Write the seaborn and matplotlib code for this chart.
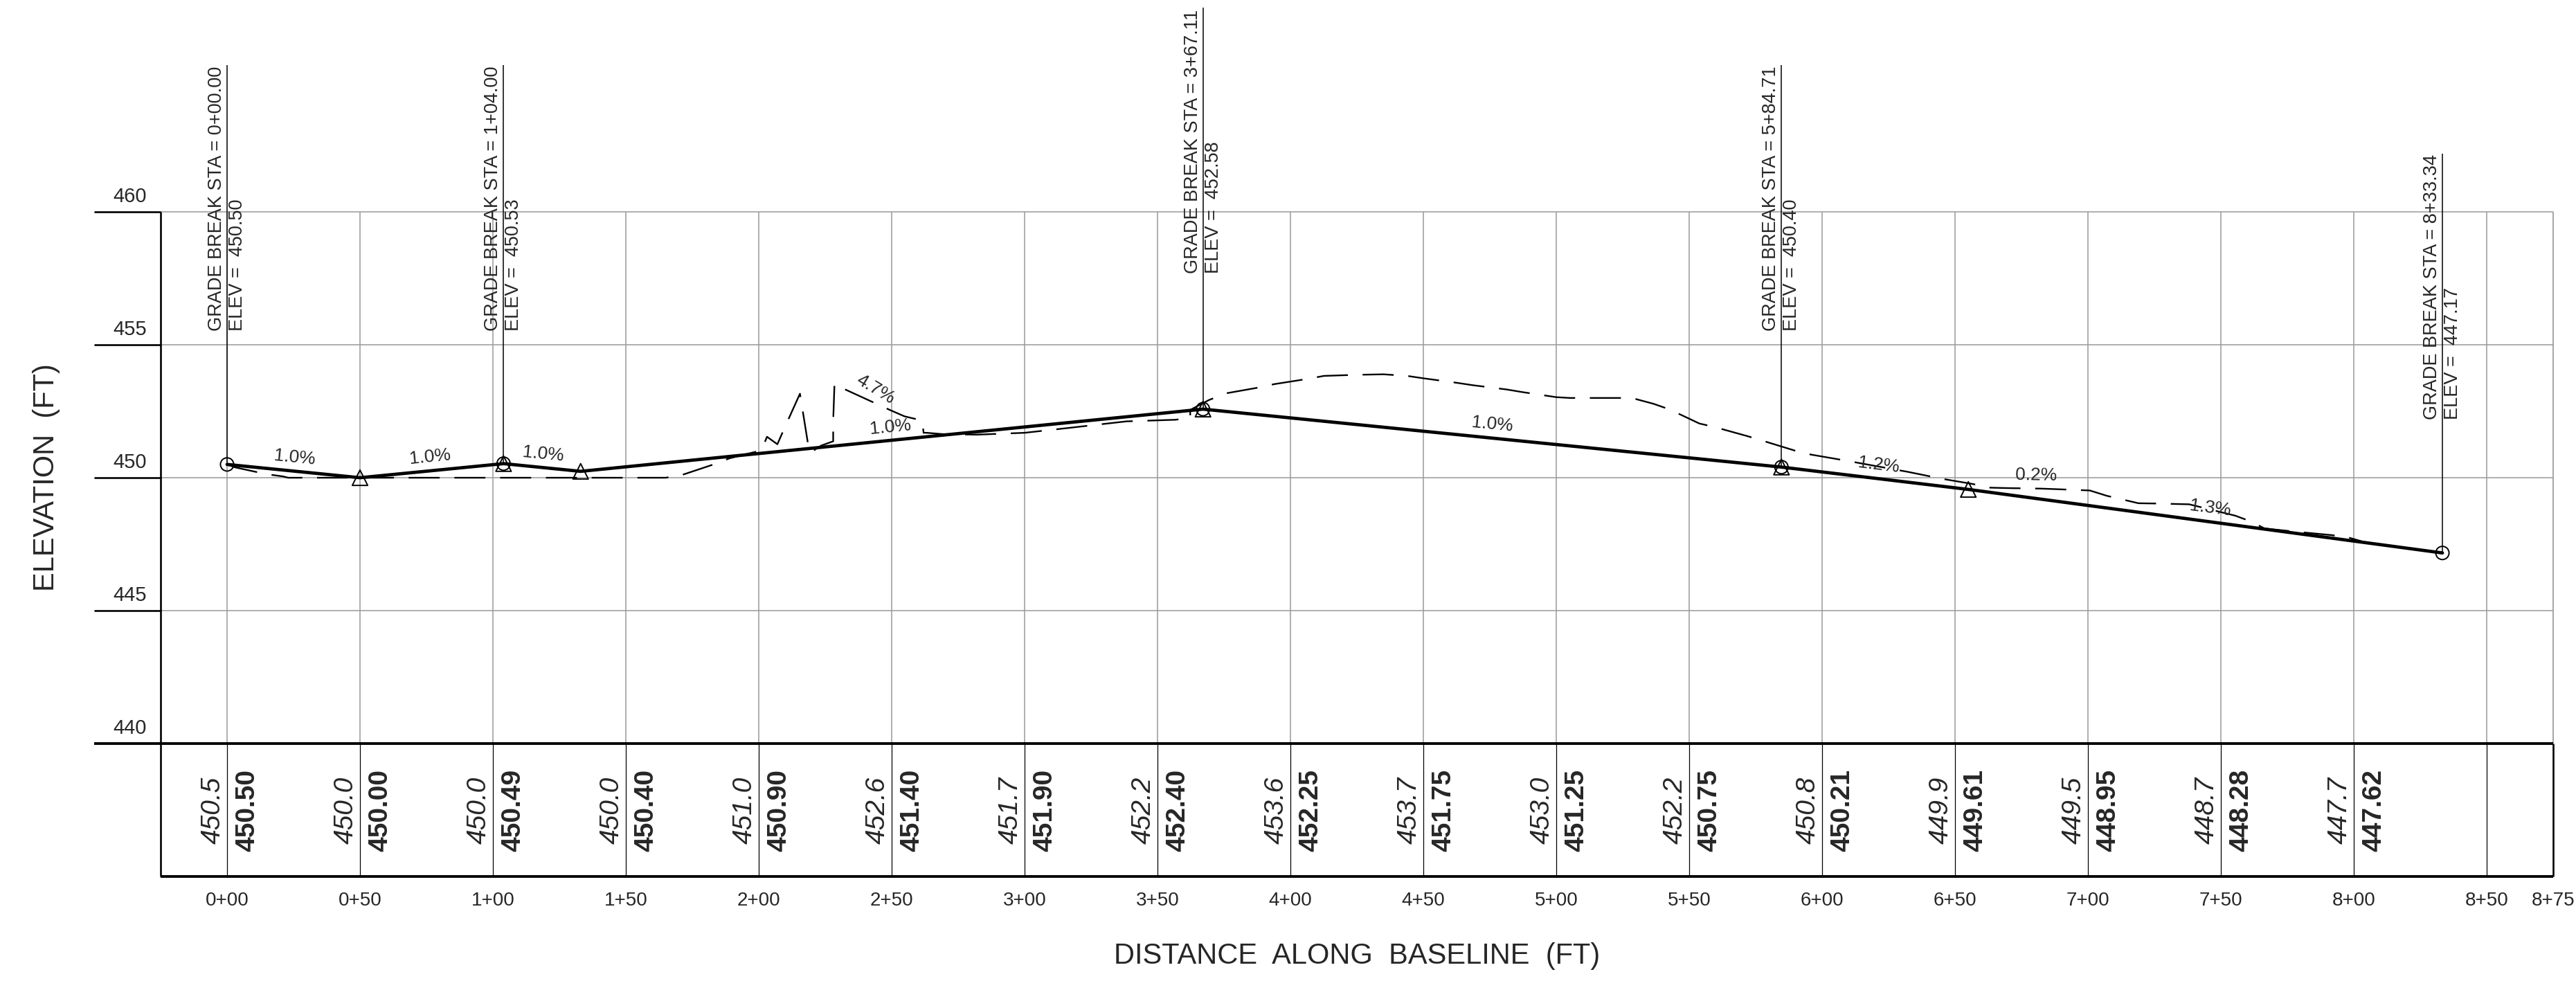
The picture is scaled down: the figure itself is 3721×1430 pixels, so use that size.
import matplotlib
matplotlib.use("Agg")
import matplotlib.pyplot as plt
import seaborn as sns
from matplotlib import font_manager

# ---- data (stations in ft, elevations in ft) ----
prop_sta = [0.0, 50.0, 104.0, 133.0, 367.11, 584.71, 655.0, 833.34]
prop_elev = [450.50, 450.00, 450.53, 450.24, 452.58, 450.40, 449.56, 447.17]

gb_sta = [0.0, 104.0, 367.11, 584.71, 833.34]
gb_elev = [450.50, 450.53, 452.58, 450.40, 447.17]
gb_sta_text = ["0+00.00", "1+04.00", "3+67.11", "5+84.71", "8+33.34"]
gb_elev_text = ["450.50", "450.53", "452.58", "450.40", "447.17"]
gb_label_base = [455.52, 455.52, 457.68, 455.52, 452.19]

tri_sta = [50.0, 104.0, 133.0, 367.11, 584.71, 655.0]
tri_elev = [450.00, 450.53, 450.24, 452.58, 450.40, 449.56]

ex_sta = [0, 3, 15, 21, 23, 165, 171, 183, 189, 201, 203.1, 207, 209.9, 215.5, 219, 220,
          223.5, 228, 228, 228.5, 232.3, 249.3, 254.8, 261.5, 262, 263.2, 269.3, 282, 300,
          317.2, 338.3, 356.6, 362.3, 362.3, 369.3, 375.5, 387.9, 393.9, 406.6, 412.6, 424.5,
          435, 443.9, 450, 462.6, 468.6, 481.3, 487.3, 500, 505.2, 528.4, 536.6, 542.6, 553.8,
          559.8, 571.7, 577.7, 590.4, 595.8, 608.6, 632.3, 645.1, 656.9, 661.5, 669.7, 682.5,
          688, 700.7, 707.1, 719, 725.4, 738.1, 755.5, 761.9, 766.4, 779.2, 791.9, 798.4, 802.9]
ex_elev = [450.5, 450.39, 450.13, 450.05, 450.0, 450.0, 450.1, 450.5, 450.73, 451.03, 451.54,
           451.26, 451.92, 453.16, 450.98, 450.98, 451.21, 451.37, 452.14, 453.55, 453.33,
           452.55, 452.31, 452.15, 451.69, 451.69, 451.64, 451.62, 451.69, 451.88, 452.12,
           452.18, 452.24, 452.55, 452.92, 453.17, 453.39, 453.52, 453.72, 453.83, 453.87,
           453.89, 453.83, 453.74, 453.57, 453.48, 453.32, 453.22, 453.03, 453.0, 453.0,
           452.78, 452.57, 452.04, 451.9, 451.57, 451.39, 451.0, 450.87, 450.65, 450.22,
           449.96, 449.76, 449.63, 449.61, 449.59, 449.57, 449.52, 449.32, 449.04, 449.03,
           449.0, 448.57, 448.33, 448.09, 447.96, 447.84, 447.74, 447.61]

table_sta = [0, 50, 100, 150, 200, 250, 300, 350, 400, 450, 500, 550, 600, 650, 700, 750, 800]
table_ex = ["450.5", "450.0", "450.0", "450.0", "451.0", "452.6", "451.7", "452.2", "453.6",
            "453.7", "453.0", "452.2", "450.8", "449.9", "449.5", "448.7", "447.7"]
table_pr = ["450.50", "450.00", "450.49", "450.40", "450.90", "451.40", "451.90", "452.40",
            "452.25", "451.75", "451.25", "450.75", "450.21", "449.61", "448.95", "448.28",
            "447.62"]

sta_ticks = [0, 50, 100, 150, 200, 250, 300, 350, 400, 450, 500, 550, 600, 650, 700, 750,
             800, 850, 875]
sta_labels = ["0+00", "0+50", "1+00", "1+50", "2+00", "2+50", "3+00", "3+50", "4+00", "4+50",
              "5+00", "5+50", "6+00", "6+50", "7+00", "7+50", "8+00", "8+50", "8+75"]
elev_ticks = [440, 445, 450, 455, 460]
elev_labels = ["440", "445", "450", "455", "460"]

slope_text = ["1.0%", "1.0%", "1.0%", "4.7%", "1.0%", "1.0%", "1.2%", "0.2%", "1.3%"]
slope_sta = [25.5, 76.3, 118.8, 244.0, 249.5, 476.0, 621.4, 680.4, 746.0]
slope_elev = [450.76, 450.78, 450.89, 453.33, 451.90, 452.00, 450.47, 450.10, 448.85]
slope_rot = [-5.7, 5.7, -5.7, -31, 5.7, -5.7, -7, -1, -7.5]

# ---- style ----
sns.set_style("white")
plt.rcParams["font.family"] = ["Liberation Sans", "DejaVu Sans"]
names = {f.name for f in font_manager.fontManager.ttflist}
if "Liberation Sans Narrow" in names:
    table_font, table_size = ["Liberation Sans Narrow", "DejaVu Sans"], 35
else:
    table_font, table_size = ["Liberation Sans", "DejaVu Sans"], 28

grid_c = "#9d9d9d"
fig = plt.figure(figsize=(37.21, 14.30), dpi=100)
ax = fig.add_axes([0, 0, 1, 1])
ax.set_xlim(-85.42, 883.59)
ax.set_ylim(430.73, 467.97)
ax.axis("off")

# grid of the profile
ax.vlines(sta_ticks[:-1], 440, 460, color=grid_c, lw=1.15, zorder=1)
ax.vlines(875, 440, 460, color=grid_c, lw=1.3, zorder=1)
ax.hlines([445, 450, 455, 460], -25, 875, color=grid_c, lw=1.15, zorder=1)

# left border + elevation ticks
ax.vlines(-25, 435, 460, color="black", lw=1.9, zorder=3)
ax.hlines(elev_ticks[1:], -50, -25, color="black", lw=1.9, zorder=3)
for v, lab in zip(elev_ticks, elev_labels):
    ax.text(-36.5, v + 0.36, lab, ha="center", va="baseline", fontsize=21)

# data table under the profile
ax.hlines(440, -50, 875, color="black", lw=2.8, zorder=3)
ax.hlines(435, -25, 875, color="black", lw=2.8, zorder=3)
ax.vlines(875, 435, 440, color="black", lw=1.9, zorder=3)
ax.vlines(sta_ticks[:-1], 435, 440, color="black", lw=0.9, zorder=2)
for s, e, p in zip(table_sta, table_ex, table_pr):
    ax.text(s - 5.2, 437.5, e, rotation=90, ha="center", va="center", style="italic",
            family=table_font, fontsize=table_size)
    ax.text(s + 7.6, 437.5, p, rotation=90, ha="center", va="center", weight="bold",
            family=table_font, fontsize=table_size)

for s, lab in zip(sta_ticks, sta_labels):
    ax.text(s, 434.1, lab, ha="center", va="center", fontsize=20)

ax.text(425, 432.0, "DISTANCE  ALONG  BASELINE  (FT)", ha="center", va="center", fontsize=30)
ax.text(-68, 450.0, "ELEVATION  (FT)", rotation=90, ha="center", va="center", fontsize=30)

# existing ground (dashed) and proposed profile (heavy)
sns.lineplot(x=ex_sta, y=ex_elev, estimator=None, sort=False, color="black", lw=1.7,
             linestyle=(0, (19, 9)), ax=ax, zorder=4)
sns.lineplot(x=prop_sta, y=prop_elev, estimator=None, sort=False, color="black", lw=3.4,
             ax=ax, zorder=5)

sns.scatterplot(x=tri_sta, y=tri_elev, marker="^", s=256, color="none", edgecolor="black",
                linewidth=1.4, ax=ax, zorder=6)
ax.collections[-1].set_facecolor("none")
sns.scatterplot(x=gb_sta, y=gb_elev, marker="o", s=190, color="none", edgecolor="black",
                linewidth=1.4, ax=ax, zorder=6)
ax.collections[-1].set_facecolor("none")

# grade break call-outs
for s, e, base, st, el in zip(gb_sta, gb_elev, gb_label_base, gb_sta_text, gb_elev_text):
    ax.vlines(s, e, base + 10.0, color="black", lw=1.1, zorder=5)
    ax.text(s, base, f"GRADE BREAK STA = {st}\nELEV =  {el}", rotation=90, ha="center",
            va="bottom", multialignment="left", fontsize=19.5, linespacing=1.2, zorder=7)

# grade labels
for t, s, e, r in zip(slope_text, slope_sta, slope_elev, slope_rot):
    ax.text(s, e, t, rotation=r, rotation_mode="anchor", ha="center", va="center",
            fontsize=19, zorder=7)

fig.savefig("out.png", dpi=100, facecolor="white")
